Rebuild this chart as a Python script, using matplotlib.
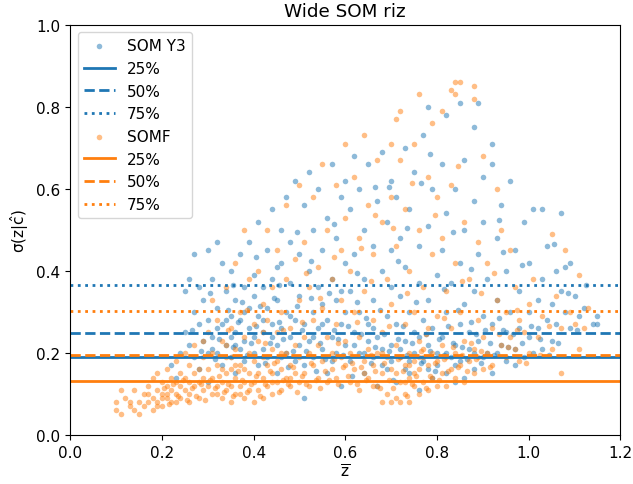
import matplotlib
matplotlib.use('Agg')
import matplotlib.pyplot as plt

plt.rcParams['font.size'] = 11
plt.rcParams['mathtext.default'] = 'regular'

# (z, sigma), SOM Y3
somy3_points = [
    (0.22,0.17),(0.23,0.14),(0.24,0.2),(0.25,0.25),(0.25,0.35),(0.26,0.38),(0.26,0.22),(0.27,0.19),(0.27,0.3),
    (0.27,0.44),(0.28,0.36),(0.28,0.27),(0.28,0.16),(0.29,0.23),(0.29,0.33),(0.3,0.2),(0.3,0.45),(0.3,0.28),(0.3,0.13),
    (0.31,0.38),(0.31,0.24),(0.32,0.2),(0.32,0.31),(0.32,0.47),(0.33,0.42),(0.33,0.27),(0.33,0.17),(0.34,0.22),(0.34,0.35),
    (0.35,0.29),(0.35,0.19),(0.35,0.4),(0.36,0.25),(0.36,0.33),(0.36,0.15),(0.37,0.21),(0.37,0.44),(0.37,0.28),
    (0.38,0.36),(0.38,0.23),(0.38,0.18),(0.39,0.31),(0.39,0.26),(0.39,0.47),(0.4,0.2),(0.4,0.34),(0.4,0.24),(0.4,0.39),
    (0.31,0.21),(0.32,0.26),(0.34,0.28),(0.36,0.22),(0.38,0.3),(0.35,0.24),
    (0.41,0.29),(0.41,0.17),(0.41,0.52),(0.42,0.25),(0.42,0.36),(0.42,0.21),(0.43,0.31),(0.43,0.45),(0.43,0.19),
    (0.44,0.27),(0.44,0.55),(0.44,0.38),(0.45,0.22),(0.45,0.33),(0.45,0.15),(0.46,0.26),(0.46,0.5),(0.46,0.42),
    (0.47,0.2),(0.47,0.3),(0.47,0.58),(0.48,0.24),(0.48,0.37),(0.48,0.47),(0.49,0.18),(0.49,0.28),(0.49,0.62),
    (0.5,0.22),(0.5,0.34),(0.5,0.44),(0.51,0.09),(0.42,0.28),(0.44,0.24),(0.46,0.19),(0.48,0.29),(0.45,0.41),
    (0.51,0.27),(0.51,0.56),(0.51,0.17),(0.52,0.4),(0.52,0.23),(0.52,0.64),(0.53,0.3),(0.53,0.5),(0.53,0.19),
    (0.54,0.26),(0.54,0.36),(0.54,0.6),(0.55,0.21),(0.55,0.45),(0.55,0.32),(0.56,0.15),(0.56,0.28),(0.56,0.53),
    (0.57,0.24),(0.57,0.38),(0.57,0.66),(0.58,0.2),(0.58,0.33),(0.58,0.48),(0.59,0.27),(0.59,0.58),(0.59,0.12),
    (0.6,0.22),(0.6,0.42),(0.6,0.3),(0.6,0.62),(0.53,0.24),(0.55,0.27),(0.57,0.18),(0.59,0.35),
    (0.61,0.18),(0.61,0.35),(0.61,0.55),(0.62,0.25),(0.62,0.68),(0.62,0.44),(0.63,0.2),(0.63,0.3),(0.63,0.6),
    (0.64,0.15),(0.64,0.38),(0.64,0.5),(0.65,0.23),(0.65,0.27),(0.65,0.66),(0.66,0.19),(0.66,0.33),(0.66,0.46),
    (0.67,0.12),(0.67,0.24),(0.67,0.57),(0.68,0.21),(0.68,0.4),(0.68,0.69),(0.69,0.16),(0.69,0.29),(0.69,0.52),
    (0.7,0.22),(0.7,0.36),(0.7,0.62),(0.7,0.45),(0.62,0.22),(0.64,0.2),(0.66,0.26),(0.68,0.17),(0.7,0.18),
    (0.71,0.13),(0.71,0.27),(0.71,0.58),(0.72,0.19),(0.72,0.34),(0.72,0.48),(0.73,0.23),(0.73,0.41),(0.73,0.7),
    (0.74,0.15),(0.74,0.3),(0.74,0.55),(0.75,0.2),(0.75,0.25),(0.75,0.64),(0.76,0.11),(0.76,0.37),(0.76,0.46),
    (0.77,0.18),(0.77,0.28),(0.77,0.73),(0.78,0.22),(0.78,0.51),(0.78,0.33),(0.78,0.8),(0.79,0.14),(0.79,0.26),
    (0.79,0.6),(0.8,0.2),(0.8,0.39),(0.8,0.17),(0.72,0.21),(0.74,0.18),(0.76,0.24),(0.78,0.16),(0.73,0.16),
    (0.81,0.24),(0.81,0.45),(0.81,0.66),(0.82,0.15),(0.82,0.3),(0.82,0.54),(0.82,0.78),(0.83,0.19),(0.83,0.37),
    (0.84,0.22),(0.84,0.13),(0.84,0.6),(0.85,0.27),(0.85,0.42),(0.85,0.18),(0.85,0.81),(0.86,0.32),(0.86,0.67),
    (0.86,0.5),(0.87,0.21),(0.87,0.25),(0.88,0.75),(0.88,0.16),(0.88,0.35),(0.88,0.57),(0.89,0.23),(0.89,0.44),
    (0.89,0.81),(0.9,0.19),(0.9,0.29),(0.9,0.63),(0.9,0.52),(0.82,0.2),(0.84,0.17),(0.86,0.14),(0.88,0.2),
    (0.91,0.2),(0.91,0.38),(0.92,0.27),(0.92,0.71),(0.92,0.66),(0.92,0.15),(0.93,0.33),(0.93,0.48),(0.94,0.22),
    (0.94,0.56),(0.95,0.25),(0.95,0.4),(0.95,0.18),(0.96,0.3),(0.96,0.62),(0.97,0.21),(0.97,0.45),(0.98,0.26),
    (0.98,0.35),(0.99,0.19),(0.99,0.52),(1.0,0.24),(1.0,0.3),(1.0,0.42),(0.93,0.2),(0.97,0.17),
    (1.01,0.2),(1.01,0.55),(1.02,0.33),(1.02,0.26),(1.03,0.38),(1.03,0.55),(1.03,0.21),(1.04,0.28),(1.04,0.46),
    (1.05,0.32),(1.05,0.23),(1.06,0.4),(1.06,0.27),(1.07,0.54),(1.07,0.35),(1.08,0.3),(1.08,0.41),(1.09,0.26),
    (1.09,0.42),(1.1,0.34),(1.11,0.29),(1.12,0.31),(1.14,0.27),(1.15,0.29),(1.15,0.27),
    (0.265,0.255),(0.285,0.205),(0.305,0.345),(0.315,0.185),(0.325,0.235),(0.345,0.305),(0.355,0.215),
    (0.365,0.275),(0.375,0.325),(0.385,0.195),(0.395,0.225),(0.405,0.265),(0.415,0.315),(0.425,0.175),
    (0.435,0.225),(0.445,0.335),(0.455,0.275),(0.465,0.235),(0.475,0.165),(0.485,0.205),(0.495,0.315),
    (0.505,0.255),(0.515,0.205),(0.525,0.335),(0.535,0.155),(0.545,0.225),(0.555,0.185),(0.565,0.345),
    (0.575,0.255),(0.585,0.235),(0.595,0.195),(0.605,0.265),(0.615,0.145),(0.625,0.325),(0.635,0.245),
    (0.645,0.285),(0.655,0.175),(0.665,0.215),(0.675,0.305),(0.685,0.245),(0.695,0.205),(0.705,0.135),
    (0.715,0.235),(0.725,0.265),(0.735,0.195),(0.745,0.225),(0.755,0.325),(0.765,0.175),(0.775,0.245),
    (0.785,0.205),(0.795,0.155),(0.805,0.235),(0.815,0.195),(0.825,0.265),(0.835,0.225),(0.845,0.305),
    (0.855,0.215),(0.865,0.185),(0.875,0.275),(0.885,0.245),(0.895,0.175),(0.905,0.255),(0.915,0.225),
    (0.925,0.195),(0.935,0.285),(0.945,0.255),(0.955,0.215),(0.965,0.245),(0.985,0.225),(1.005,0.265),
    (1.025,0.235),(1.045,0.195),(1.065,0.225),(1.085,0.345),(1.105,0.255),(1.125,0.365),(0.525,0.425),
    (0.575,0.515),(0.625,0.395),(0.665,0.605),(0.715,0.425),(0.765,0.615),(0.815,0.355),(0.835,0.495),
    (0.875,0.405),(0.945,0.445),(0.985,0.415),(1.055,0.465),(0.455,0.365),(0.405,0.435),(0.355,0.365),
    (0.495,0.495),(0.735,0.505),(0.785,0.685),(0.935,0.525),(0.695,0.605),
]

# (z, sigma), SOMF
somf_points = [
    (0.1,0.08),(0.1,0.06),(0.11,0.05),(0.11,0.11),(0.12,0.09),(0.13,0.07),(0.13,0.08),(0.14,0.06),(0.14,0.11),
    (0.15,0.08),(0.16,0.07),(0.16,0.1),(0.17,0.08),(0.17,0.12),(0.18,0.06),(0.18,0.09),(0.18,0.14),(0.19,0.08),
    (0.19,0.11),(0.19,0.15),(0.2,0.07),(0.2,0.1),(0.2,0.13),(0.21,0.09),(0.21,0.12),(0.21,0.16),(0.22,0.08),
    (0.22,0.11),(0.22,0.14),(0.23,0.1),(0.23,0.13),(0.23,0.18),(0.24,0.09),(0.24,0.12),(0.24,0.15),(0.25,0.11),
    (0.25,0.14),(0.25,0.2),(0.26,0.1),(0.26,0.13),(0.26,0.17),(0.27,0.12),(0.27,0.15),(0.27,0.22),(0.28,0.09),
    (0.28,0.13),(0.28,0.16),(0.29,0.11),(0.29,0.14),(0.29,0.19),(0.3,0.12),(0.3,0.16),(0.3,0.25),(0.2,0.09),
    (0.19,0.07),(0.17,0.1),(0.23,0.08),(0.26,0.08),(0.21,0.1),(0.15,0.05),(0.29,0.23),
    (0.31,0.1),(0.31,0.14),(0.31,0.2),(0.32,0.12),(0.32,0.17),(0.32,0.28),(0.33,0.09),(0.33,0.13),(0.33,0.23),
    (0.34,0.11),(0.34,0.15),(0.34,0.19),(0.34,0.36),(0.35,0.08),(0.35,0.12),(0.35,0.16),(0.35,0.26),(0.36,0.1),
    (0.36,0.14),(0.36,0.21),(0.36,0.42),(0.37,0.12),(0.37,0.17),(0.37,0.3),(0.38,0.09),(0.38,0.13),(0.38,0.24),
    (0.38,0.5),(0.39,0.11),(0.39,0.15),(0.39,0.2),(0.39,0.38),(0.4,0.08),(0.4,0.13),(0.4,0.18),(0.4,0.27),
    (0.33,0.16),(0.36,0.17),(0.38,0.16),(0.32,0.1),(0.37,0.1),(0.34,0.22),(0.31,0.33),(0.35,0.19),
    (0.41,0.11),(0.41,0.15),(0.41,0.23),(0.41,0.4),(0.42,0.09),(0.42,0.14),(0.42,0.19),(0.42,0.32),(0.43,0.12),
    (0.43,0.17),(0.43,0.28),(0.43,0.5),(0.44,0.1),(0.44,0.15),(0.44,0.21),(0.44,0.36),(0.45,0.13),(0.45,0.18),
    (0.45,0.25),(0.45,0.45),(0.46,0.11),(0.46,0.16),(0.46,0.3),(0.47,0.14),(0.47,0.2),(0.47,0.38),(0.47,0.56),
    (0.48,0.12),(0.48,0.17),(0.48,0.26),(0.49,0.15),(0.49,0.22),(0.49,0.43),(0.5,0.13),(0.5,0.19),(0.5,0.33),
    (0.5,0.61),(0.44,0.13),(0.46,0.2),(0.48,0.14),(0.42,0.25),
    (0.51,0.15),(0.51,0.24),(0.51,0.47),(0.52,0.12),(0.52,0.2),(0.52,0.36),(0.53,0.17),(0.53,0.28),(0.53,0.58),
    (0.54,0.14),(0.54,0.22),(0.54,0.41),(0.55,0.18),(0.55,0.31),(0.55,0.66),(0.56,0.13),(0.56,0.24),(0.56,0.5),
    (0.57,0.16),(0.57,0.2),(0.57,0.38),(0.58,0.14),(0.58,0.27),(0.58,0.61),(0.59,0.19),(0.59,0.33),(0.59,0.45),
    (0.6,0.17),(0.6,0.23),(0.6,0.71),(0.6,0.53),
    (0.61,0.13),(0.61,0.2),(0.61,0.4),(0.62,0.16),(0.62,0.3),(0.62,0.63),(0.63,0.11),(0.63,0.24),(0.63,0.48),
    (0.64,0.18),(0.64,0.35),(0.64,0.73),(0.65,0.14),(0.65,0.21),(0.65,0.56),(0.66,0.17),(0.66,0.28),(0.66,0.44),
    (0.67,0.12),(0.67,0.2),(0.67,0.67),(0.68,0.15),(0.68,0.25),(0.68,0.52),(0.68,0.08),(0.69,0.1),(0.69,0.19),
    (0.69,0.38),(0.7,0.16),(0.7,0.32),(0.7,0.71),(0.7,0.58),(0.7,0.08),(0.66,0.12),(0.68,0.2),(0.64,0.15),
    (0.71,0.09),(0.71,0.15),(0.71,0.22),(0.71,0.46),(0.71,0.77),(0.72,0.08),(0.72,0.13),(0.72,0.19),(0.72,0.67),
    (0.72,0.79),(0.73,0.1),(0.73,0.17),(0.73,0.27),(0.73,0.55),(0.74,0.08),(0.74,0.14),(0.74,0.2),(0.74,0.4),
    (0.75,0.12),(0.75,0.18),(0.75,0.3),(0.75,0.71),(0.76,0.1),(0.76,0.16),(0.76,0.23),(0.76,0.5),(0.76,0.83),
    (0.77,0.13),(0.77,0.19),(0.77,0.36),(0.78,0.11),(0.78,0.17),(0.78,0.26),(0.78,0.63),(0.79,0.14),(0.79,0.2),
    (0.79,0.44),(0.79,0.76),(0.8,0.12),(0.8,0.18),(0.8,0.29),(0.8,0.58),(0.73,0.13),(0.75,0.15),(0.77,0.21),
    (0.74,0.17),(0.76,0.19),
    (0.81,0.15),(0.81,0.22),(0.81,0.48),(0.81,0.79),(0.82,0.12),(0.82,0.19),(0.82,0.35),(0.83,0.16),(0.83,0.26),
    (0.83,0.61),(0.83,0.84),(0.84,0.14),(0.84,0.2),(0.84,0.42),(0.84,0.86),(0.84,0.83),(0.85,0.17),(0.85,0.3),
    (0.85,0.86),(0.86,0.13),(0.86,0.23),(0.86,0.52),(0.87,0.18),(0.87,0.38),(0.88,0.85),(0.88,0.15),(0.88,0.21),
    (0.88,0.82),(0.89,0.19),(0.89,0.28),(0.89,0.47),(0.9,0.16),(0.9,0.24),(0.9,0.68),
    (0.91,0.2),(0.91,0.42),(0.92,0.26),(0.92,0.17),(0.93,0.33),(0.93,0.6),(0.94,0.22),(0.94,0.5),(0.95,0.19),
    (0.95,0.3),(0.96,0.24),(0.96,0.45),(0.97,0.21),(0.97,0.36),(0.98,0.28),(0.98,0.18),(0.99,0.25),(1.0,0.32),
    (1.0,0.2),(1.01,0.38),(1.02,0.24),(1.03,0.29),(1.05,0.49),(1.05,0.21),(1.06,0.34),(1.07,0.15),(1.07,0.26),
    (1.08,0.45),(1.09,0.3),(1.1,0.27),(1.11,0.39),(1.11,0.21),(1.12,0.26),(1.13,0.31),
    (0.205,0.115),(0.215,0.075),(0.225,0.125),(0.235,0.095),(0.245,0.135),(0.255,0.085),(0.265,0.115),
    (0.275,0.095),(0.285,0.125),(0.295,0.085),(0.305,0.135),(0.315,0.115),(0.325,0.145),(0.335,0.105),
    (0.345,0.125),(0.355,0.095),(0.365,0.155),(0.375,0.135),(0.385,0.105),(0.395,0.125),(0.405,0.145),
    (0.415,0.095),(0.425,0.125),(0.435,0.155),(0.445,0.175),(0.455,0.105),(0.465,0.135),(0.475,0.125),
    (0.485,0.165),(0.495,0.105),(0.505,0.145),(0.515,0.125),(0.525,0.175),(0.535,0.135),(0.545,0.115),
    (0.555,0.155),(0.565,0.135),(0.575,0.185),(0.585,0.125),(0.595,0.165),(0.605,0.145),(0.615,0.175),
    (0.625,0.125),(0.635,0.165),(0.645,0.135),(0.655,0.195),(0.665,0.155),(0.675,0.115),(0.685,0.175),
    (0.695,0.135),(0.705,0.115),(0.715,0.185),(0.725,0.155),(0.735,0.095),(0.745,0.125),(0.755,0.145),
    (0.765,0.205),(0.775,0.115),(0.785,0.145),(0.795,0.175),(0.805,0.135),(0.815,0.185),(0.825,0.155),
    (0.835,0.215),(0.845,0.165),(0.855,0.195),(0.865,0.155),(0.875,0.225),(0.885,0.185),(0.895,0.205),
    (0.915,0.165),(0.935,0.245),(0.955,0.215),(0.975,0.255),(0.995,0.175),(1.025,0.195),(1.045,0.265),
    (0.345,0.255),(0.385,0.305),(0.425,0.225),(0.465,0.255),(0.505,0.275),(0.545,0.335),(0.585,0.225),
    (0.625,0.275),(0.655,0.375),(0.695,0.265),(0.735,0.345),(0.775,0.245),(0.815,0.285),(0.855,0.375),
    (0.515,0.395),(0.635,0.455),(0.705,0.505),(0.745,0.615),(0.665,0.535),(0.575,0.435),(0.795,0.535),
    (0.845,0.655),(0.895,0.345),(0.925,0.395),(0.975,0.305),
]

# quartile lines (25%, 50%, 75%)
somy3_quartiles = [0.19, 0.249, 0.366]
somf_quartiles = [0.132, 0.195, 0.302]
quartile_labels = ['25%', '50%', '75%']
line_styles = ['-', '--', ':']

fig, ax = plt.subplots(figsize=(6.33, 4.85), dpi=100)
fig.subplots_adjust(left=0.111, right=0.98, bottom=0.101, top=0.947)

for name, pts, qs, col in [('SOM Y3', somy3_points, somy3_quartiles, 'C0'),
                           ('SOMF', somf_points, somf_quartiles, 'C1')]:
    z = [p[0] for p in pts]
    s = [p[1] for p in pts]
    ax.scatter(z, s, s=16, alpha=0.5, color=col, linewidths=0, label=name)
    for q, lab, ls in zip(qs, quartile_labels, line_styles):
        ax.axhline(q, color=col, ls=ls, lw=2, label=lab)

ax.set_xlim(0, 1.2)
ax.set_ylim(0, 1.0)
ax.set_title('Wide SOM riz')
ax.set_xlabel(r'$\overline{z}$', labelpad=2)
ax.set_ylabel(r'$\sigma(z|\hat{c})$')
ax.legend(loc='upper left')
fig.savefig('out.png', dpi=100)
